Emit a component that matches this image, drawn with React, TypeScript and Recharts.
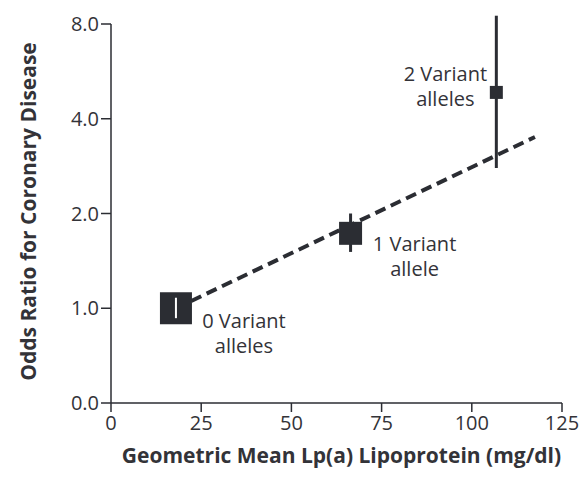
import { ScatterChart, Scatter, XAxis, YAxis, ReferenceLine, Label } from 'recharts';

// genotype groups
const groupLines = [
  ['0 Variant', 'alleles'],
  ['1 Variant', 'allele'],
  ['2 Variant', 'alleles'],
];
const lpaMeans = [18.0, 66.4, 106.8];
const oddsRatios = [1.0, 1.73, 4.85];
const ciLower = [0.93, 1.51, 2.79];
const ciUpper = [1.08, 2.0, 8.5];

// fitted trend
const trendLpa = [18.0, 117.5];
const trendOdds = [1.0, 3.5];

const xTicks = [0, 25, 50, 75, 100, 125];
const yTicks = [0, 1, 2, 4, 8];

const INK = '#2b2d33';
const TEXT = '#333338';
const FONT = '"Open Sans", Lato, sans-serif';
const squareSizes = [32, 23, 13];
// label placement relative to the marker
const labelOffsets = [
  { dx: 68, dy: 12 },
  { dx: 64, dy: 10 },
  { dx: -51, dy: -19 },
];

// log2 scale, with 0 drawn at the axis floor
const toAxis = (or: number) => (or <= 0 ? -1 : Math.log2(or));

const points = lpaMeans.map((x, i) => ({ x, y: toAxis(oddsRatios[i]), idx: i }));
const trend = trendLpa.map((x, i) => ({ x, y: toAxis(trendOdds[i]) }));
// reference group CI, drawn white over its square
const refCi = [
  { x: lpaMeans[0], y: toAxis(ciLower[0]) },
  { x: lpaMeans[0], y: toAxis(ciUpper[0]) },
];

const Marker = (props: any) => {
  const { cx, cy, payload } = props;
  const i = payload.idx;
  const s = squareSizes[i];
  const off = labelOffsets[i];
  return (
    <g>
      <rect x={cx - s / 2} y={cy - s / 2} width={s} height={s} fill={INK} />
      {groupLines[i].map((line, k) => (
        <text
          key={k}
          x={cx + off.dx}
          y={cy + off.dy + k * 25}
          textAnchor='middle'
          dominantBaseline='central'
          fontFamily={FONT}
          fontSize={20}
          fill={TEXT}
        >
          {line}
        </text>
      ))}
    </g>
  );
};

const renderYTitle = (props: any) => {
  const { viewBox } = props;
  const x = viewBox.x + 28;
  const y = viewBox.y + viewBox.height / 2 - 2;
  return (
    <text
      x={x}
      y={y}
      transform={`rotate(-90, ${x}, ${y})`}
      textAnchor='middle'
      dominantBaseline='central'
      fontFamily={FONT}
      fontSize={21}
      fontWeight='bold'
      fill={TEXT}
    >
      Odds Ratio for Coronary Disease
    </text>
  );
};

const renderXTitle = (props: any) => {
  const { viewBox } = props;
  const x = viewBox.x + viewBox.width / 2 + 5;
  const y = viewBox.y + 52;
  return (
    <text
      x={x}
      y={y}
      textAnchor='middle'
      dominantBaseline='central'
      fontFamily={FONT}
      fontSize={21}
      fontWeight='bold'
      fill={TEXT}
    >
      Geometric Mean Lp(a) Lipoprotein (mg/dl)
    </text>
  );
};

export default function App() {
  const tickStyle = { fontFamily: FONT, fontSize: 20, fill: TEXT };
  return (
    <div style={{ position: 'absolute', left: 0, top: 0, background: '#fff' }}>
      <ScatterChart
        width={581}
        height={482}
        margin={{ top: 24, right: 19, bottom: 0, left: 0 }}
      >
        <XAxis
          type='number'
          dataKey='x'
          domain={[0, 125]}
          ticks={xTicks}
          height={79}
          tickSize={9}
          tickMargin={4}
          tick={tickStyle}
          axisLine={{ stroke: INK, strokeWidth: 1.5 }}
          tickLine={{ stroke: INK, strokeWidth: 1.5 }}
        >
          <Label content={renderXTitle} />
        </XAxis>
        <YAxis
          type='number'
          dataKey='y'
          domain={[-1, 3]}
          ticks={yTicks.map(toAxis)}
          tickFormatter={(v: number) => (v === -1 ? '0.0' : Math.pow(2, v).toFixed(1))}
          width={111}
          tickSize={10}
          tickMargin={2}
          tick={tickStyle}
          axisLine={{ stroke: INK, strokeWidth: 1.5 }}
          tickLine={{ stroke: INK, strokeWidth: 1.5 }}
        >
          <Label content={renderYTitle} />
        </YAxis>
        <Scatter
          data={trend}
          line={{ stroke: INK, strokeWidth: 4, strokeDasharray: '11 6' }}
          shape={() => null}
          isAnimationActive={false}
        />
        {lpaMeans.map((x, i) => (
          <ReferenceLine
            key={`ci-${i}`}
            segment={[
              { x, y: toAxis(ciLower[i]) },
              { x, y: toAxis(ciUpper[i]) },
            ]}
            ifOverflow='visible'
            stroke={INK}
            strokeWidth={3}
          />
        ))}
        <Scatter data={points} shape={Marker} isAnimationActive={false} />
        <Scatter
          data={refCi}
          line={{ stroke: '#fff', strokeWidth: 2 }}
          shape={() => null}
          isAnimationActive={false}
        />
      </ScatterChart>
    </div>
  );
}
